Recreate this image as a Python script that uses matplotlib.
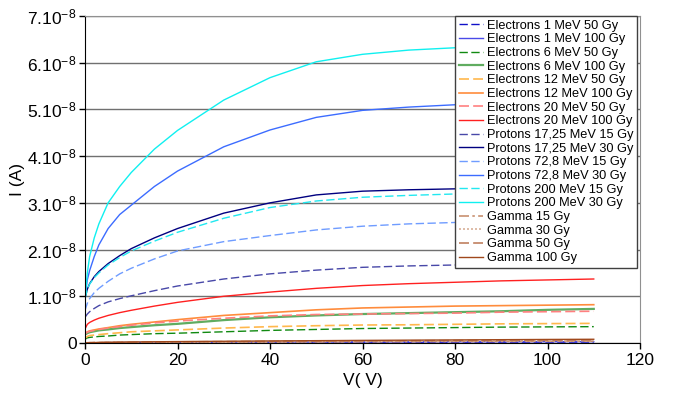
import matplotlib
matplotlib.use('Agg')
import matplotlib.pyplot as plt
from matplotlib.ticker import FixedLocator, FuncFormatter

plt.rcParams['font.family'] = ['Liberation Sans', 'DejaVu Sans']
plt.rcParams['mathtext.fontset'] = 'custom'
plt.rcParams['mathtext.rm'] = 'Liberation Sans'

# tension (V) commune a toutes les series
V = [0, 0.5, 1, 2, 3, 5, 7.5, 10, 15, 20, 30, 40, 50, 60, 70, 80, 90, 100, 110]

# courants en unites de 1e-8 A
e1_50 = [0, 0.002, 0.003, 0.004, 0.005, 0.006, 0.007, 0.008, 0.009, 0.01, 0.011, 0.012, 0.013, 0.014, 0.015, 0.016, 0.017, 0.018, 0.02]
e1_100 = [0, 0.003, 0.004, 0.005, 0.006, 0.008, 0.009, 0.01, 0.012, 0.014, 0.016, 0.018, 0.02, 0.022, 0.024, 0.026, 0.027, 0.028, 0.03]
e6_50 = [0.08, 0.11, 0.12, 0.13, 0.14, 0.15, 0.17, 0.18, 0.2, 0.21, 0.24, 0.27, 0.29, 0.31, 0.32, 0.33, 0.34, 0.345, 0.35]
e6_100 = [0.18, 0.21, 0.23, 0.25, 0.27, 0.29, 0.32, 0.34, 0.38, 0.41, 0.49, 0.55, 0.59, 0.62, 0.64, 0.66, 0.68, 0.71, 0.73]
e12_50 = [0.1, 0.14, 0.16, 0.17, 0.18, 0.2, 0.22, 0.24, 0.26, 0.28, 0.32, 0.35, 0.37, 0.385, 0.39, 0.4, 0.41, 0.415, 0.42]
e12_100 = [0.2, 0.24, 0.26, 0.28, 0.3, 0.33, 0.37, 0.4, 0.45, 0.5, 0.59, 0.65, 0.71, 0.75, 0.77, 0.79, 0.8, 0.81, 0.82]
e20_50 = [0.2, 0.23, 0.25, 0.27, 0.29, 0.32, 0.35, 0.38, 0.43, 0.47, 0.53, 0.58, 0.61, 0.62, 0.63, 0.64, 0.66, 0.67, 0.68]
e20_100 = [0.3, 0.4, 0.44, 0.49, 0.53, 0.59, 0.65, 0.7, 0.79, 0.87, 1.0, 1.09, 1.17, 1.23, 1.27, 1.3, 1.33, 1.35, 1.37]
p17_15 = [0.55, 0.62, 0.67, 0.74, 0.8, 0.88, 0.95, 1.01, 1.12, 1.22, 1.37, 1.48, 1.56, 1.62, 1.65, 1.67, 1.69, 1.71, 1.73]
p17_30 = [0.95, 1.15, 1.27, 1.42, 1.53, 1.7, 1.87, 2.02, 2.25, 2.45, 2.78, 3.0, 3.17, 3.25, 3.28, 3.3, 3.33, 3.37, 3.4]
p72_15 = [0.7, 0.85, 0.95, 1.08, 1.17, 1.32, 1.48, 1.6, 1.8, 1.97, 2.17, 2.3, 2.42, 2.5, 2.55, 2.58, 2.61, 2.64, 2.67]
p72_30 = [1.0, 1.35, 1.55, 1.85, 2.1, 2.45, 2.75, 2.95, 3.35, 3.68, 4.2, 4.56, 4.83, 4.98, 5.05, 5.1, 5.13, 5.16, 5.18]
p200_15 = [0.95, 1.15, 1.26, 1.4, 1.5, 1.67, 1.83, 1.97, 2.18, 2.37, 2.67, 2.9, 3.04, 3.12, 3.16, 3.19, 3.22, 3.25, 3.28]
p200_30 = [0.95, 1.5, 1.85, 2.25, 2.55, 3.0, 3.35, 3.65, 4.15, 4.55, 5.2, 5.68, 6.02, 6.18, 6.27, 6.32, 6.36, 6.39, 6.42]
g15 = [0, 0.003, 0.004, 0.005, 0.006, 0.008, 0.01, 0.011, 0.013, 0.015, 0.018, 0.021, 0.024, 0.027, 0.03, 0.033, 0.035, 0.037, 0.04]
g30 = [0, 0.004, 0.005, 0.006, 0.008, 0.01, 0.012, 0.014, 0.017, 0.02, 0.024, 0.028, 0.032, 0.036, 0.039, 0.042, 0.045, 0.048, 0.05]
g50 = [0, 0.005, 0.006, 0.008, 0.01, 0.012, 0.015, 0.017, 0.021, 0.024, 0.029, 0.034, 0.039, 0.043, 0.047, 0.051, 0.054, 0.057, 0.06]
g100 = [0, 0.006, 0.008, 0.01, 0.012, 0.015, 0.018, 0.021, 0.026, 0.03, 0.037, 0.044, 0.05, 0.056, 0.061, 0.066, 0.071, 0.076, 0.08]

labels = ['Electrons 1 MeV 50 Gy', 'Electrons 1 MeV 100 Gy',
          'Electrons 6 MeV 50 Gy', 'Electrons 6 MeV 100 Gy',
          'Electrons 12 MeV 50 Gy', 'Electrons 12 MeV 100 Gy',
          'Electrons 20 MeV 50 Gy', 'Electrons 20 MeV 100 Gy',
          'Protons 17,25 MeV 15 Gy', 'Protons 17,25 MeV 30 Gy',
          'Protons 72,8 MeV 15 Gy', 'Protons 72,8 MeV 30 Gy',
          'Protons 200 MeV 15 Gy', 'Protons 200 MeV 30 Gy',
          'Gamma 15 Gy', 'Gamma 30 Gy', 'Gamma 50 Gy', 'Gamma 100 Gy']
series = [e1_50, e1_100, e6_50, e6_100, e12_50, e12_100, e20_50, e20_100,
          p17_15, p17_30, p72_15, p72_30, p200_15, p200_30, g15, g30, g50, g100]

dash = (6, 2.5)
styles = [
    ('#1010c8', dash, 1.0), ('#4a4ae8', None, 1.0),
    ('#118a11', dash, 1.0), ('#60ac60', None, 1.6),
    ('#ffb84d', dash, 1.2), ('#ff8c3c', None, 1.2),
    ('#ff8080', dash, 1.2), ('#ff2020', None, 1.0),
    ('#4848a8', dash, 1.0), ('#000080', None, 1.0),
    ('#6f9cff', dash, 1.0), ('#3c6cff', None, 1.0),
    ('#22e8f0', dash, 1.0), ('#10f0f0', None, 1.0),
    ('#c89070', (6, 2, 1.5, 2), 1.2), ('#d8b098', (1.2, 1.2), 1.2),
    ('#c08060', dash, 1.2), ('#a0481c', None, 1.0),
]

fig = plt.figure(figsize=(6.76, 4.01), dpi=100)
ax = fig.add_axes([85/676, 58/401, 555/676, 327/401])

for y, lab, (c, d, lw) in zip(series, labels, styles):
    line, = ax.plot(V, [v * 1e-8 for v in y], color=c, lw=lw, label=lab)
    if d is not None:
        line.set_dashes(d)

ax.set_xlim(0, 120)
ax.set_ylim(0, 7e-8)
ax.xaxis.set_major_locator(FixedLocator([0, 20, 40, 60, 80, 100, 120]))
ax.yaxis.set_major_locator(FixedLocator([k * 1e-8 for k in range(8)]))

def ylab(v, pos):
    k = int(round(v / 1e-8))
    if k == 0:
        return '0'
    return r'$\mathregular{%d.10^{-8}}$' % k

ax.yaxis.set_major_formatter(FuncFormatter(ylab))
ax.grid(axis='y', color='#707070', lw=1)
ax.set_axisbelow(True)
ax.tick_params(axis='both', direction='out', length=4, width=1, labelsize=12.5, pad=3)
ax.tick_params(axis='y', pad=2)
for s in ['left', 'bottom']:
    ax.spines[s].set_color('black')
for s in ['top', 'right']:
    ax.spines[s].set_color('#909090')

ax.set_xlabel('V( V)', fontsize=12.5, labelpad=4)
ax.set_ylabel('I (A)', fontsize=12.5, labelpad=2)

leg = ax.legend(loc='upper right', bbox_to_anchor=((637 - 85) / 555, 1.0),
                fontsize=9.2, frameon=True, fancybox=False, framealpha=1, edgecolor='#404040',
                handlelength=1.9, handletextpad=0.25, labelspacing=0.13, borderpad=0.3,
                borderaxespad=0)
leg.get_frame().set_linewidth(1.0)

fig.savefig('out.png', dpi=100)
